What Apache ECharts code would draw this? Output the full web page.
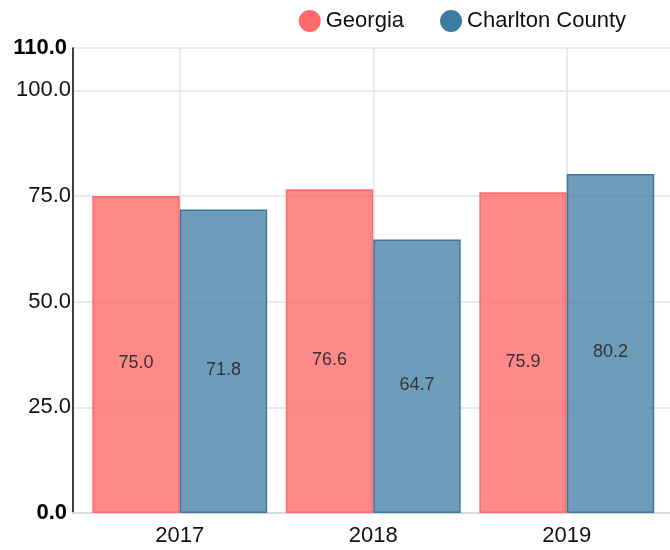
<!DOCTYPE html>
<html>
<head>
<meta charset="utf-8">
<script src="https://cdn.jsdelivr.net/npm/echarts@6/dist/echarts.min.js"></script>
<style>html,body{margin:0;padding:0;background:#fff}#c{width:670px;height:550px}</style>
</head>
<body>
<div id="c"></div>
<script>
var categories = ['2017', '2018', '2019'];
var seriesNames = ['Georgia', 'Charlton County'];
var georgia = [75.0, 76.6, 75.9];
var charlton = [71.8, 64.7, 80.2];
var yMin = 0, yMax = 110, yInterval = 25;

var FONT = 'Liberation Sans, Arial, Helvetica, sans-serif';
var chart = echarts.init(document.getElementById('c'), null, {renderer: 'canvas'});

function barLabel() {
  return {
    show: true, position: 'inside', offset: [0, 9],
    color: '#333', fontSize: 18, fontFamily: FONT,
    formatter: function (p) { return p.value.toFixed(1); }
  };
}

chart.setOption({
  animation: false,
  textStyle: {fontFamily: FONT},
  legend: {
    right: 39, top: 5, icon: 'circle', itemWidth: 22, itemHeight: 22, itemGap: 36,
    textStyle: {fontSize: 22, color: '#111', fontFamily: FONT},
    data: [
      {name: seriesNames[0], itemStyle: {color: '#ff6b6b', borderWidth: 0}},
      {name: seriesNames[1], itemStyle: {color: '#3f7ca3', borderWidth: 0}}
    ]
  },
  grid: [
    {left: 83, right: 6.5, top: 48, bottom: 37},
    {left: 73, right: 0, top: 48, bottom: 37}
  ],
  xAxis: [
    {
      type: 'category', gridIndex: 0, data: categories,
      axisLine: {show: false}, axisTick: {show: false}, splitLine: {show: false},
      axisLabel: {fontSize: 22, color: '#111', margin: 12, fontFamily: FONT}
    },
    {
      type: 'value', gridIndex: 1, min: 0, max: 1,
      axisLine: {show: true, lineStyle: {color: '#d9d9d9', width: 2}},
      axisTick: {show: false}, axisLabel: {show: false}, splitLine: {show: false}
    }
  ],
  yAxis: [
    {
      type: 'value', gridIndex: 0, min: yMin, max: yMax, interval: yInterval, offset: 10,
      axisLine: {show: true, lineStyle: {color: '#000', width: 1.5}},
      axisTick: {show: false}, splitLine: {show: false},
      axisLabel: {
        margin: 2, fontSize: 22, color: '#111', fontFamily: FONT,
        formatter: function (v) {
          var s = v.toFixed(1);
          return (v === yMin || v === yMax) ? '{b|' + s + '}' : s;
        },
        rich: {b: {fontWeight: 'bold', fontSize: 22, color: '#000', fontFamily: FONT, padding: [0, 4, 0, 0]}}
      }
    },
    {
      type: 'value', gridIndex: 1, min: yMin, max: yMax, interval: yInterval,
      axisLine: {show: false}, axisTick: {show: false}, axisLabel: {show: false},
      splitLine: {show: true, lineStyle: {color: '#e4e4e4', width: 1.5}}
    }
  ],
  series: [
    {
      name: seriesNames[0], type: 'bar', xAxisIndex: 0, yAxisIndex: 0, data: georgia,
      barGap: '0%', barCategoryGap: '9.6%',
      itemStyle: {color: 'rgba(255,107,107,0.8)', borderColor: 'rgba(255,100,100,0.9)', borderWidth: 1.5},
      label: barLabel()
    },
    {
      name: seriesNames[1], type: 'bar', xAxisIndex: 0, yAxisIndex: 0, data: charlton,
      barGap: '0%', barCategoryGap: '9.6%',
      itemStyle: {color: 'rgba(61,124,165,0.75)', borderColor: 'rgba(55,115,158,0.95)', borderWidth: 1.5},
      label: barLabel()
    },
    {
      name: 'categoryGrid', type: 'line', xAxisIndex: 0, yAxisIndex: 0, data: [],
      z: 1, silent: true,
      markLine: {
        silent: true, symbol: 'none', z: 1, label: {show: false},
        lineStyle: {color: '#e4e4e4', width: 1.5, type: 'solid'},
        data: categories.map(function (c) { return {xAxis: c}; })
      }
    }
  ]
});
</script>
</body>
</html>
